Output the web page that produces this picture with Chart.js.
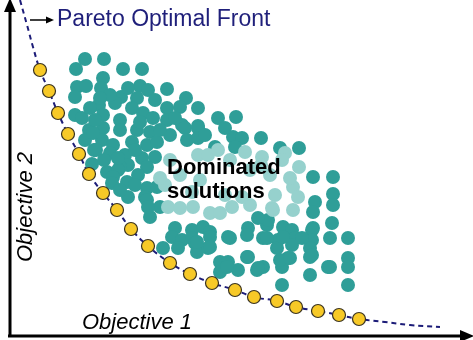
<!DOCTYPE html>
<html>
<head>
<meta charset="utf-8">
<script src="https://cdn.jsdelivr.net/npm/chart.js@4.4.0/dist/chart.umd.min.js"></script>
<style>
  html, body { margin: 0; padding: 0; background: #fff; }
  #wrap { width: 473px; height: 340px; }
</style>
</head>
<body>
<div id="wrap"><canvas id="pareto"></canvas></div>
<script>
// Pareto optimal points (objective 1, objective 2)
const frontX = [40, 49, 58, 68, 79, 89, 103, 117, 131, 148, 170, 190, 212, 235, 254, 277, 296, 318, 339, 359];
const frontY = [70, 91, 113, 134, 154, 174, 193, 210, 229, 246, 263, 274, 283, 290, 297, 301, 307, 311, 315, 319];

// dashed front line continues past the points at both ends
const lineHeadX = [20, 27, 33];
const lineHeadY = [0, 25, 47];
const lineTailX = [385, 410, 440];
const lineTailY = [322, 325, 327];

// dominated solutions
const domX = [85, 104, 76, 123, 142, 103, 77, 86, 101, 140, 148, 167, 75, 121, 137, 186,
  99, 115, 132, 167, 180, 198, 75, 82, 103, 120, 143, 153, 167, 218, 236, 182, 198,
  89, 103, 120, 137, 150, 185, 198, 170, 85, 102, 113, 132, 147, 157, 187, 198, 233, 242, 261,
  110, 125, 142, 155, 215, 235, 280, 299, 128, 147, 120, 107, 118, 113, 127, 112, 147, 157,
  145, 128, 147, 160, 150, 313, 333, 333, 315, 333, 313, 313, 148, 175, 192, 203, 210, 172,
  182, 192, 210, 163, 178, 195, 197, 208, 220, 220, 332, 248, 267, 283, 292, 228, 247, 263,
  278, 295, 312, 312, 330, 348, 277, 292, 310, 247, 288, 310, 328, 348, 348, 228, 238, 257,
  263, 282, 310, 197, 210, 230, 267, 283, 302, 227, 248, 258, 280, 290, 312, 330, 282, 348,
  268, 258, 94, 92,
  93, 96, 104, 135, 138, 120, 135, 95, 110, 128, 90, 155, 160, 175, 205, 225, 140, 118, 100];
const domY = [59, 59, 69, 69, 69, 78, 87, 86, 88, 86, 90, 89, 97, 97, 98, 98,
  105, 103, 108, 108, 107, 108, 115, 118, 115, 120, 113, 118, 120, 118, 117, 125, 126,
  130, 128, 130, 130, 132, 128, 128, 135, 140, 140, 145, 142, 145, 142, 140, 138, 137, 138, 138,
  153, 155, 158, 157, 147, 147, 148, 148, 165, 167, 167, 172, 170, 177, 182, 183, 188, 187,
  197, 197, 200, 207, 217, 177, 177, 194, 202, 205, 212, 228, 207, 228, 230, 227, 232, 237,
  240, 238, 237, 248, 248, 243, 252, 248, 262, 272, 223, 228, 225, 227, 230, 237, 235, 238,
  240, 238, 230, 240, 238, 238, 248, 245, 248, 257, 258, 257, 267, 258, 267, 262, 270, 270,
  267, 267, 275, 242, 247, 238, 238, 237, 238, 267, 257, 268, 260, 258, 255, 267, 285, 285,
  220, 218, 150, 164,
  133, 150, 160, 150, 175, 190, 185, 120, 95, 88, 108, 100, 130, 118, 135, 128, 122, 158, 98];

// dominated solutions seen through the label box
const fadeX = [170, 198, 208, 230, 262, 285, 261, 299, 180, 250, 270, 200, 293, 298, 273, 293,
  168, 180, 193, 210, 220, 232, 250, 272, 192, 225, 242, 275, 165, 290, 160, 245, 218, 282];
const fadeY = [160, 155, 155, 160, 157, 153, 165, 167, 175, 170, 175, 180, 187, 197, 210, 210,
  207, 208, 207, 213, 213, 207, 205, 208, 192, 195, 197, 195, 185, 178, 178, 152, 150, 160];

const toPts = (xs, ys) => xs.map((x, i) => ({ x: x, y: ys[i] }));

const labels = {
  front: 'Pareto Optimal Front',
  dominated: ['Dominated', 'solutions'],
  xTitle: 'Objective 1',
  yTitle: 'Objective 2'
};

const decor = {
  id: 'decor',
  afterDatasetsDraw(chart) {
    const ctx = chart.ctx;
    ctx.save();
    // axes with arrowheads
    ctx.strokeStyle = '#000';
    ctx.fillStyle = '#000';
    ctx.lineWidth = 3;
    ctx.beginPath();
    ctx.moveTo(10, 8);
    ctx.lineTo(10, 337);
    ctx.moveTo(8, 336);
    ctx.lineTo(463, 336);
    ctx.stroke();
    ctx.beginPath();
    ctx.moveTo(10, -2); ctx.lineTo(4, 12); ctx.lineTo(16, 12); ctx.closePath();
    ctx.fill();
    ctx.beginPath();
    ctx.moveTo(474, 336); ctx.lineTo(460, 330); ctx.lineTo(460, 342); ctx.closePath();
    ctx.fill();

    // small arrow pointing at the label
    ctx.lineWidth = 1.5;
    ctx.beginPath();
    ctx.moveTo(30, 20); ctx.lineTo(48, 20);
    ctx.stroke();
    ctx.beginPath();
    ctx.moveTo(54, 20); ctx.lineTo(46, 16.5); ctx.lineTo(46, 23.5); ctx.closePath();
    ctx.fill();

    ctx.textBaseline = 'alphabetic';
    ctx.textAlign = 'left';
    ctx.fillStyle = '#1f1f7a';
    ctx.font = '23px Arial, "Liberation Sans", sans-serif';
    ctx.fillText(labels.front, 57, 26);

    ctx.fillStyle = '#000';
    ctx.font = 'bold 22px Arial, "Liberation Sans", sans-serif';
    ctx.fillText(labels.dominated[0], 167, 174);
    ctx.fillText(labels.dominated[1], 167, 198);

    ctx.font = 'italic 22px Arial, "Liberation Sans", sans-serif';
    ctx.fillText(labels.xTitle, 82, 329);

    ctx.translate(32, 262);
    ctx.rotate(-Math.PI / 2);
    ctx.fillText(labels.yTitle, 0, 0);
    ctx.restore();
  }
};

new Chart(document.getElementById('pareto'), {
  type: 'scatter',
  data: {
    datasets: [
      {
        label: 'front line',
        type: 'line',
        data: toPts(lineHeadX.concat(frontX, lineTailX), lineHeadY.concat(frontY, lineTailY)),
        borderColor: '#1c1c78',
        borderWidth: 2,
        borderDash: [5, 4],
        pointRadius: 0,
        tension: 0.4,
        fill: false,
        order: 3
      },
      {
        label: 'dominated',
        data: toPts(domX, domY),
        backgroundColor: '#2f9e98',
        borderWidth: 0,
        pointRadius: 7,
        order: 2
      },
      {
        label: 'dominated (faded)',
        data: toPts(fadeX, fadeY),
        backgroundColor: '#96d1cd',
        borderWidth: 0,
        pointRadius: 7,
        order: 1
      },
      {
        label: 'pareto',
        data: toPts(frontX, frontY),
        backgroundColor: '#f7c927',
        borderColor: '#3a3320',
        borderWidth: 1.2,
        pointRadius: 6.5,
        order: 0
      }
    ]
  },
  options: {
    responsive: true,
    maintainAspectRatio: false,
    animation: false,
    layout: { padding: 0, autoPadding: false },
    plugins: {
      legend: { display: false },
      tooltip: { enabled: false }
    },
    scales: {
      x: { type: 'linear', min: 0, max: 473, display: false },
      y: { type: 'linear', min: 0, max: 340, reverse: true, display: false }
    }
  },
  plugins: [decor]
});
</script>
</body>
</html>
